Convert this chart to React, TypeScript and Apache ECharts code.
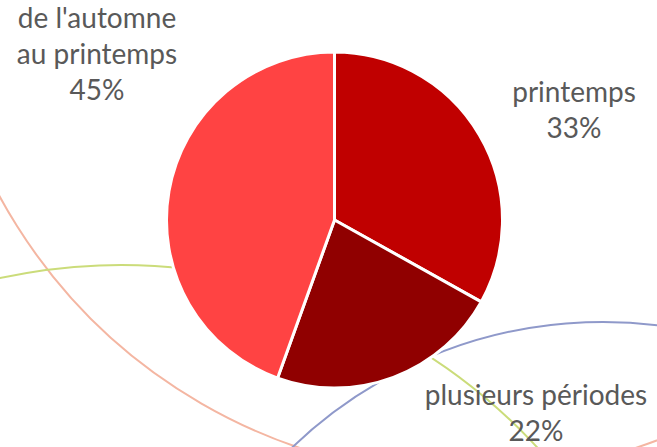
import React, { useEffect, useRef } from "react";
import * as echarts from "echarts";

const categories = ["printemps", "plusieurs périodes", "de l'automne\nau printemps"];
const values = [33.1, 22.4, 44.5];
const colors = ["#C00000", "#900000", "#FF4343"];

// label block centres (layout only)
const labelPos: [number, number][] = [
  [574, 109],
  [536, 412],
  [97, 53],
];

// decorative background arcs: [cx, cy, r, color]
const decoArcs: [number, number, number, string][] = [
  [468, -58, 533, "#F4B6A2"],
  [121, 831, 566, "#CBDC7A"],
  [603, 769, 447, "#8F99CA"],
];

export default function App() {
  const ref = useRef<HTMLDivElement>(null);
  useEffect(() => {
    if (!ref.current) return;
    const chart = echarts.init(ref.current, undefined, { renderer: "svg" });
    chart.setOption({
      animation: false,
      backgroundColor: "#ffffff",
      graphic: {
        elements: decoArcs.map(([cx, cy, r, c]) => ({
          type: "circle",
          z: 0,
          silent: true,
          shape: { cx, cy, r },
          style: { fill: "none", stroke: c, lineWidth: 2 },
        })),
      },
      series: [
        {
          type: "pie",
          z: 5,
          center: [334.5, 220],
          radius: 168,
          startAngle: 90,
          clockwise: true,
          itemStyle: { borderColor: "#ffffff", borderWidth: 3 },
          label: {
            show: true,
            position: "outside",
            alignTo: "none",
            overflow: "none",
            formatter: (p: any) => `${p.name}\n${Math.round(p.percent)}%`,
            fontFamily: "Lato",
            fontSize: 28,
            lineHeight: 36,
            color: "#595959",
            align: "center",
          },
          labelLine: { show: false },
          labelLayout: (params: any) => {
            const pos = labelPos[params.dataIndex];
            return { x: pos[0], y: pos[1], align: "center", verticalAlign: "middle" };
          },
          data: categories.map((name, i) => ({
            name,
            value: values[i],
            itemStyle: { color: colors[i] },
            label: { width: 320 },
          })),
        },
      ],
    });
    return () => chart.dispose();
  }, []);
  return (
    <div
      ref={ref}
      style={{ position: "fixed", left: 0, top: 0, width: 657, height: 447 }}
    />
  );
}
